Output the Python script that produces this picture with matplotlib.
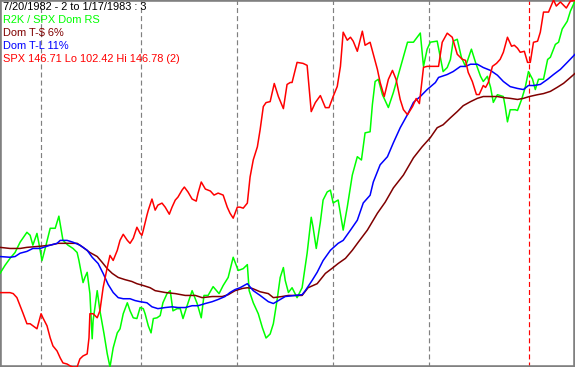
#!/usr/bin/env python3
"""Redraw the R2K / SPX dominance chart for 7/20/1982 .. 1/17/1983.

The three dominance lines sit on an unlabelled 0-100 scale, SPX gets its
own price scale (twin axis) stretched from its low to its high.
Writes out.png (575x367).
"""
import numpy as np
import matplotlib
matplotlib.use("Agg")
import matplotlib.pyplot as plt

# x is the trading-day index, 0 = 7/20/1982, 126 = 1/17/1983
last_day = 126
# first trading day of Aug, Sep, Oct, Nov, Dec, Jan
month_starts = [9, 31, 52, 73, 94, 116]
year_start = 116

header = "7/20/1982 - 2 to 1/17/1983 : 3"
rs_label = "R2K / SPX Dom RS"
ts_pct = 6
tl_pct = 11
spx_tag = "(2)"

# R2K / SPX relative strength
rs_day = [0.0, 1.1, 2.2, 3.3, 4.4, 5.9, 6.6, 7.2, 8.1, 8.6, 9.2, 9.9, 11.0, 12.1, 12.9,
          13.8, 14.9, 16.0, 16.9, 17.3, 18.2, 18.6, 19.1, 19.7, 20.2, 20.4, 21.3, 21.9,
          22.8, 23.5, 24.1, 24.8, 25.7, 26.3, 27.0, 27.9, 28.5, 29.2, 30.0, 30.7, 31.4,
          31.8, 32.5, 33.1, 33.6, 34.4, 35.1, 35.7, 36.6, 37.3, 37.9, 38.8, 39.5, 40.1,
          41.0, 42.1, 43.2, 44.1, 44.7, 45.6, 46.7, 48.0, 48.9, 50.0, 51.1, 52.2, 53.3,
          54.2, 54.6, 55.5, 56.6, 57.5, 58.3, 59.2, 59.9, 60.7, 61.4, 62.1, 62.5, 63.2,
          64.0, 65.1, 66.2, 67.3, 68.2, 68.6, 69.3, 70.2, 70.8, 71.7, 72.4, 73.0, 74.1,
          75.2, 76.1, 77.2, 78.3, 79.2, 80.0, 81.1, 81.6, 82.2, 82.9, 83.8, 85.1, 86.2,
          87.3, 88.4, 89.3, 90.6, 92.1, 92.8, 93.6, 94.3, 95.8, 96.5, 97.1, 98.0, 98.7,
          99.3, 100.2, 101.1, 102.0, 102.4, 103.3, 104.2, 105.3, 105.9, 106.8, 107.5,
          108.1, 109.0, 110.3, 110.7, 111.2, 111.8, 112.9, 113.4, 114.3, 115.1, 115.8,
          116.7, 117.3, 118.0, 119.1, 120.0, 120.6, 121.7, 122.4, 123.2, 124.3, 125.0,
          126.0]
rs = [25.5, 27.7, 29.6, 31.2, 34.0, 36.7, 35.9, 33.2, 36.4, 33.2, 29.0, 32.3, 37.8, 37.8,
      41.1, 34.5, 33.2, 32.3, 31.2, 29.0, 23.0, 24.4, 25.8, 20.0, 7.7, 12.6, 20.8, 15.3,
      9.0, 3.6, 0.0, 5.2, 9.3, 10.4, 14.5, 17.5, 15.3, 13.4, 13.2, 16.2, 15.9, 14.5, 11.2,
      9.3, 13.2, 13.4, 14.0, 17.5, 20.0, 20.8, 15.3, 15.9, 15.9, 13.2, 16.7, 20.8, 17.3,
      13.4, 19.5, 19.5, 21.9, 20.0, 22.2, 24.4, 29.9, 26.3, 26.8, 27.9, 20.8, 17.5, 14.5,
      10.7, 7.9, 9.0, 11.8, 18.1, 24.4, 27.1, 23.6, 20.3, 21.6, 18.9, 21.6, 31.0, 40.8,
      38.1, 32.3, 39.5, 45.5, 47.7, 48.2, 44.7, 45.5, 37.3, 43.6, 52.3, 57.3, 56.4, 63.8,
      64.1, 71.5, 77.8, 78.4, 74.2, 70.7, 74.8, 79.7, 84.7, 88.5, 88.5, 91.0, 81.9, 86.6,
      88.5, 88.8, 84.4, 80.5, 81.6, 83.8, 88.8, 89.3, 84.4, 81.9, 83.3, 86.6, 83.0, 79.2,
      77.8, 79.2, 76.2, 72.1, 74.2, 73.7, 71.0, 66.8, 70.1, 70.1, 69.9, 72.9, 76.2, 80.5,
      78.4, 75.6, 78.4, 78.4, 83.8, 84.4, 87.9, 88.5, 92.1, 94.2, 97.0, 99.7]

# Dom T-S (short average)
ts_day = [0.0, 2.2, 4.4, 5.9, 8.8, 11.0, 12.7, 14.7, 16.9, 18.2, 19.7, 21.3, 22.4, 23.5,
          24.6, 25.9, 27.4, 28.9, 30.0, 31.4, 32.9, 34.0, 36.2, 38.4, 40.6, 42.8, 44.3,
          46.5, 48.7, 50.0, 51.5, 53.1, 54.2, 55.3, 57.0, 58.8, 59.9, 61.8, 63.2, 66.2,
          67.5, 69.5, 71.3, 73.0, 74.1, 75.7, 77.2, 78.5, 80.5, 82.7, 84.4, 86.2, 88.4,
          90.6, 92.5, 94.3, 95.8, 97.1, 98.7, 100.2, 101.5, 103.1, 104.6, 105.9, 109.0,
          110.3, 111.8, 113.4, 114.7, 116.0, 117.8, 119.1, 120.6, 122.1, 123.5, 125.0,
          126.0]
ts = [32.6, 32.3, 32.3, 32.6, 32.9, 33.2, 33.7, 33.7, 33.7, 32.6, 31.2, 30.1, 28.5, 26.8,
      25.5, 24.4, 23.8, 23.3, 22.7, 22.2, 21.6, 20.8, 20.3, 20.0, 19.5, 19.5, 18.9, 19.2,
      19.2, 19.7, 20.8, 21.4, 21.6, 21.4, 20.5, 20.0, 18.9, 19.2, 19.5, 19.5, 21.6, 22.7,
      25.5, 27.1, 28.2, 29.6, 31.8, 34.0, 37.3, 41.9, 44.9, 48.8, 52.3, 57.0, 60.0, 62.5,
      65.2, 66.0, 67.9, 69.6, 71.2, 72.3, 73.2, 73.7, 73.7, 73.4, 73.2, 72.9, 73.2, 73.7,
      74.2, 74.5, 75.1, 76.2, 77.3, 78.9, 80.0]

# Dom T-L (long average)
tl_day = [0.0, 2.2, 3.3, 4.4, 5.9, 7.2, 8.8, 11.0, 12.5, 13.2, 14.7, 16.0, 17.5, 19.1,
          20.2, 21.5, 22.6, 23.7, 24.8, 25.9, 27.0, 28.5, 29.6, 30.7, 32.2, 33.3, 34.6,
          36.2, 37.7, 39.0, 40.6, 42.1, 43.4, 45.0, 46.5, 47.8, 49.3, 50.4, 51.5, 52.6,
          54.2, 55.5, 57.0, 58.8, 59.9, 61.0, 62.5, 64.7, 66.2, 66.9, 68.4, 69.5, 70.8,
          72.4, 74.1, 75.2, 76.8, 78.3, 79.6, 81.1, 81.8, 83.3, 84.9, 86.2, 87.7, 89.3,
          90.6, 92.1, 93.6, 95.4, 96.1, 98.0, 99.3, 100.9, 102.0, 103.1, 104.6, 105.9,
          107.5, 109.0, 110.3, 111.8, 113.4, 114.7, 115.8, 116.9, 118.4, 120.0, 121.3,
          122.8, 124.3, 126.0]
tl = [30.1, 29.9, 30.1, 31.0, 31.5, 32.3, 32.3, 33.2, 33.7, 34.5, 34.5, 34.0, 33.2, 31.8,
      29.9, 28.2, 25.5, 22.5, 20.3, 18.9, 18.6, 18.6, 18.1, 17.8, 17.5, 16.4, 15.9, 16.2,
      16.4, 16.2, 16.2, 16.7, 16.7, 17.3, 17.8, 18.4, 19.2, 20.3, 21.1, 21.6, 22.7, 20.8,
      19.5, 17.8, 17.3, 18.1, 19.2, 19.5, 19.7, 20.8, 23.6, 25.8, 29.0, 31.8, 33.7, 34.5,
      37.3, 40.0, 44.7, 46.8, 50.4, 55.1, 57.3, 61.1, 65.2, 68.8, 72.1, 73.7, 75.6, 77.5,
      78.9, 79.7, 80.5, 81.9, 81.9, 82.5, 82.5, 81.6, 80.8, 79.5, 77.8, 76.4, 75.9, 75.6,
      76.7, 76.7, 77.0, 78.4, 79.7, 81.1, 83.0, 85.2]

# S&P 500 close
spx_day = [0.0, 1.1, 2.2, 2.9, 3.7, 4.4, 5.0, 5.9, 6.6, 7.2, 8.1, 9.0, 9.4, 10.3, 11.0,
           11.6, 12.5, 13.2, 13.8, 14.7, 15.4, 16.0, 16.9, 17.5, 18.2, 19.1, 19.5, 19.7,
           20.4, 21.3, 21.9, 22.6, 23.5, 24.1, 24.8, 25.7, 26.3, 27.0, 27.9, 28.5, 29.2,
           30.0, 30.7, 31.1, 31.4, 32.2, 32.5, 33.3, 34.0, 34.6, 35.5, 36.2, 37.1, 37.7,
           38.4, 39.0, 39.9, 40.4, 41.2, 42.1, 43.0, 43.4, 44.1, 45.0, 46.1, 46.9, 47.8,
           48.9, 49.8, 50.4, 51.1, 52.0, 52.6, 53.3, 54.2, 54.8, 55.5, 56.4, 57.0, 57.7,
           58.3, 59.2, 60.1, 61.0, 62.1, 62.9, 63.6, 64.0, 65.1, 66.4, 67.3, 68.2, 69.1,
           70.2, 71.3, 72.1, 73.0, 73.9, 74.6, 75.2, 76.1, 76.8, 77.4, 78.3, 79.4, 80.0,
           81.1, 81.8, 82.7, 83.3, 84.2, 85.1, 86.0, 86.8, 87.7, 88.4, 89.3, 90.4, 91.2,
           91.9, 92.8, 93.6, 94.3, 96.1, 96.9, 98.0, 99.1, 100.2, 101.3, 102.0, 102.6,
           103.5, 104.4, 105.0, 105.9, 106.4, 107.0, 107.9, 108.8, 109.6, 110.3, 111.2,
           112.1, 112.7, 113.4, 114.0, 114.9, 115.6, 116.2, 116.9, 117.8, 118.4, 119.1,
           120.2, 121.3, 121.9, 122.8, 124.1, 125.0, 126.0]
spx = [111.41, 111.41, 111.41, 111.29, 110.81, 109.83, 108.98, 107.65, 107.65, 107.40,
       107.04, 108.86, 108.37, 107.40, 105.94, 104.97, 104.36, 103.51, 102.91, 102.78,
       102.54, 102.42, 102.42, 103.39, 103.76, 104.00, 105.94, 108.86, 108.86, 108.37,
       109.23, 112.02, 114.45, 115.91, 115.30, 116.52, 117.73, 118.46, 117.73, 117.37,
       117.98, 119.31, 118.58, 118.34, 118.95, 120.77, 121.38, 122.72, 121.38, 121.99,
       122.23, 121.74, 120.89, 121.74, 122.59, 122.96, 123.81, 124.17, 123.57, 122.72,
       122.47, 123.44, 124.78, 123.93, 123.69, 123.20, 123.44, 123.20, 121.74, 121.01,
       120.41, 121.74, 121.74, 121.62, 122.23, 125.39, 127.46, 129.04, 131.10, 133.90,
       134.38, 134.50, 136.69, 135.11, 133.65, 136.57, 136.81, 136.81, 139.24, 139.12,
       138.88, 133.29, 134.38, 135.23, 133.77, 133.77, 135.11, 136.33, 138.76, 142.89,
       141.92, 142.28, 141.80, 140.58, 143.01, 141.31, 141.67, 140.22, 138.39, 136.81,
       135.11, 137.18, 138.27, 137.18, 134.75, 133.53, 132.92, 133.90, 134.87, 134.26,
       138.64, 138.76, 138.76, 138.76, 141.67, 142.77, 142.28, 140.22, 139.61, 139.49,
       138.03, 136.93, 135.35, 135.35, 136.45, 136.21, 136.81, 138.76, 139.12, 139.61,
       140.46, 142.28, 141.19, 141.31, 140.95, 140.46, 140.58, 139.24, 139.24, 141.67,
       141.80, 142.89, 145.32, 145.32, 146.78, 146.05, 146.54, 145.81, 146.66, 146.71]

GREEN, MAROON, BLUE, RED, GRAY = "#00ff00", "#800000", "#0000ff", "#ff0000", "#808080"


def main():
    plt.rcParams["font.family"] = ["Liberation Sans", "DejaVu Sans"]
    plt.rcParams["lines.scale_dashes"] = False

    fig = plt.figure(figsize=(5.75, 3.67), dpi=100)
    ax = fig.add_axes([0, 0, 1, 1])
    ax.set_xlim(0, last_day)
    ax.set_ylim(0, 100)
    ax.set_xticks([]); ax.set_yticks([])
    for s in ax.spines.values():
        s.set_color(GRAY)
        s.set_linewidth(2.6)

    for d in month_starts:
        ax.axvline(d, color=RED if d == year_start else GRAY, lw=0.85,
                   dashes=(3.6, 2.2), zorder=1)

    lw = 1.1
    ax.plot(rs_day, rs, color=GREEN, lw=lw, zorder=3)
    ax.plot(ts_day, ts, color=MAROON, lw=lw, zorder=4)
    ax.plot(tl_day, tl, color=BLUE, lw=lw, zorder=5)

    # SPX on its own scale, low at the bottom edge and high at the top
    p = np.array(spx)
    ax2 = ax.twinx()
    ax2.set_ylim(p.min(), p.max())
    ax2.set_yticks([])
    for s in ax2.spines.values():
        s.set_visible(False)
    ax2.plot(spx_day, p, color=RED, lw=lw, zorder=6)

    lines = [
        (header, "black"),
        (rs_label, GREEN),
        (f"Dom T-$ {ts_pct}%", MAROON),
        (f"Dom T-L {tl_pct}%", BLUE),
        (f"SPX {p[-1]:.2f} Lo {p.min():.2f} Hi {p.max():.2f} {spx_tag}", RED),
    ]
    for i, (txt, c) in enumerate(lines):
        ax2.annotate(txt, xy=(0, 1), xycoords="axes fraction",
                     xytext=(2.2, -7.3 - 9.4 * i), textcoords="offset points",
                     va="baseline", ha="left", fontsize=7.9, color=c, zorder=10)

    fig.savefig("out.png", dpi=100)
    plt.close(fig)


if __name__ == "__main__":
    main()
